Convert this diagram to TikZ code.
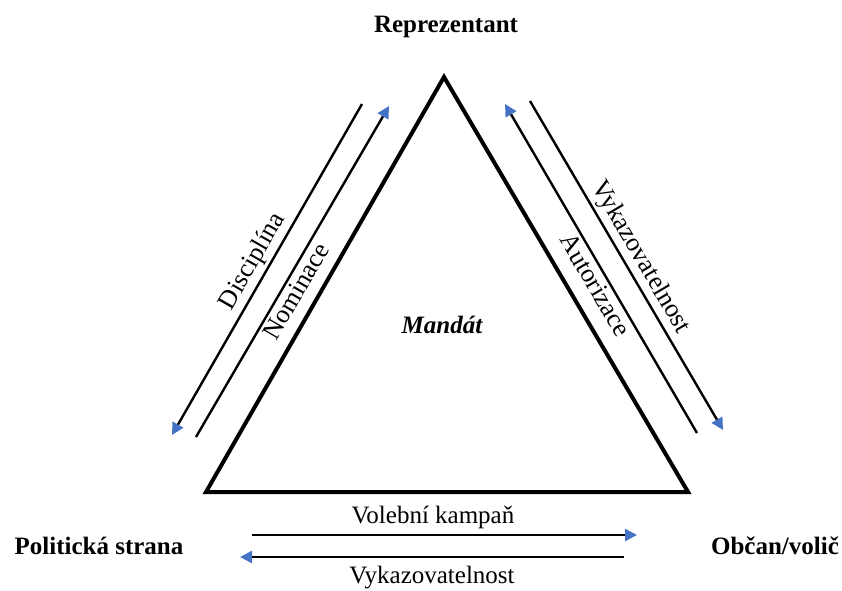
\documentclass[tikz,border=0pt]{standalone}
\usepackage{fontspec}
\setmainfont{Liberation Serif}
\usetikzlibrary{arrows.meta}
\definecolor{tipblue}{HTML}{4472C4}
\tikzset{
  tri/.style={line width=4pt,line join=miter},
  rel/.style={-{Triangle[length=12pt,width=12pt,color=tipblue]},line width=2.4pt},
  actor/.style={font=\fontsize{25}{30}\selectfont\bfseries,inner sep=0pt},
  lbl/.style={font=\fontsize{25}{30}\selectfont,inner sep=2pt},
  slbl/.style={font=\fontsize{26}{31}\selectfont,sloped,inner sep=3pt},
}
\begin{document}
\begin{tikzpicture}[x=1pt,y=-1pt]
\useasboundingbox (0,0) rectangle (842,590);
% triangle
\coordinate (top) at (444,77);
\coordinate (bl)  at (206,492);
\coordinate (br)  at (688,492);
\draw[tri] (top) -- (bl) -- (br) -- cycle;
\node[actor] (rep)    at (446,27)  {Reprezentant};
\node[actor] (strana) at (99,546)  {Politická strana};
\node[actor] (obcan)  at (775,546) {Občan/volič};
\node[font=\fontsize{25}{30}\selectfont\bfseries\itshape] (mandat) at (442,325) {Mandát};
% left side
\coordinate (dis1) at (362,104);
\coordinate (dis2) at (172,435);
\coordinate (nom1) at (196,437);
\coordinate (nom2) at (389,106);
\draw[rel] (dis1) -- node[slbl,above,pos=0.5]{Disciplína} (dis2);
\draw[rel] (nom1) -- node[slbl,below,pos=0.46]{Nominace} (nom2);
% right side
\coordinate (aut1) at (697,433);
\coordinate (aut2) at (505,104);
\coordinate (vyk1) at (530,101);
\coordinate (vyk2) at (723,430);
\draw[rel] (aut1) -- node[slbl,below,pos=0.47]{Autorizace} (aut2);
\draw[rel] (vyk1) -- node[slbl,above,pos=0.5]{Vykazovatelnost} (vyk2);
% bottom
\coordinate (kam1) at (252,535);
\coordinate (kam2) at (637,535);
\coordinate (zpet1) at (624,557);
\coordinate (zpet2) at (240,557);
\draw[rel] (kam1) -- node[lbl,above=3pt,pos=0.47]{Volební kampaň} (kam2);
\draw[rel] (zpet1) -- node[lbl,below=6pt,pos=0.5]{Vykazovatelnost} (zpet2);
\end{tikzpicture}
\end{document}
